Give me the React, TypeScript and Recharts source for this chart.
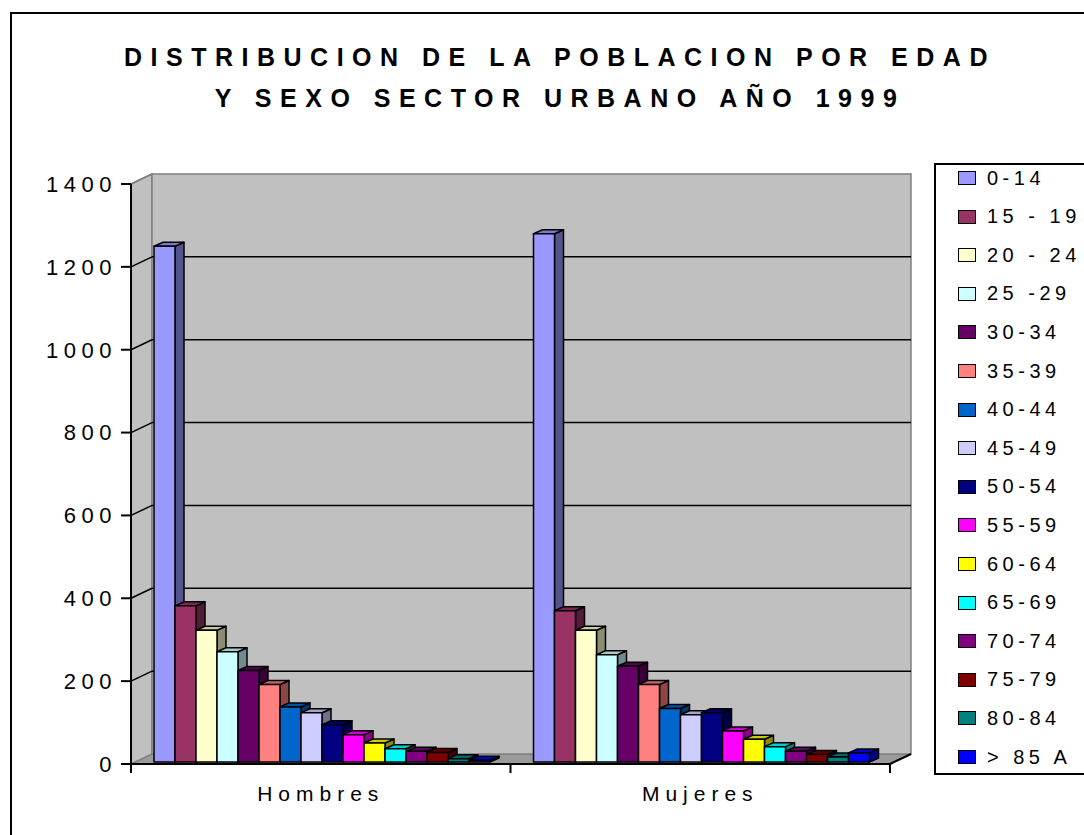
import { Bar, BarChart, ReferenceArea, XAxis, YAxis } from "recharts";

const categories = ["Hombres", "Mujeres"];
const ageGroups = ["0-14", "15 - 19", "20 - 24", "25 -29", "30-34", "35-39", "40-44", "45-49", "50-54", "55-59", "60-64", "65-69", "70-74", "75-79", "80-84", "> 85 A"];
const hombres = [1245, 377, 318, 266, 221, 187, 133, 119, 90, 66, 46, 32, 26, 23, 8, 4];
const mujeres = [1275, 365, 318, 259, 231, 187, 129, 114, 119, 75, 55, 37, 26, 18, 12, 22];
const yTicks = [0, 200, 400, 600, 800, 1000, 1200, 1400];

const colors = ["#9999ff", "#993366", "#ffffcc", "#ccffff", "#660066", "#ff8080", "#0066cc", "#ccccff", "#000080", "#ff00ff", "#ffff00", "#00ffff", "#800080", "#800000", "#008080", "#0000ff"];

const FONT = "'Liberation Sans', Arial, sans-serif";
const WALL = { dx: 21, dy: -10 };
const BAR_SHIFT = { dx: 5, dy: -2 };
const BAR_DEPTH = { dx: 9, dy: -4 };

const data = categories.map((name, c) => {
  const row: Record<string, string | number> = { name };
  ageGroups.forEach((g, i) => {
    row[g] = c === 0 ? hombres[i] : mujeres[i];
  });
  return row;
});

function shade(hex: string, k: number) {
  const n = parseInt(hex.slice(1), 16);
  const r = Math.round(((n >> 16) & 255) * k);
  const g = Math.round(((n >> 8) & 255) * k);
  const b = Math.round((n & 255) * k);
  return `rgb(${r},${g},${b})`;
}

// bar with a top and a right side, drawn a little behind the front plane
function Bar3D(props: any) {
  const { x, y, width, height, color } = props;
  if (!height || height <= 0) return null;
  const fx = x + BAR_SHIFT.dx;
  const fy = y + BAR_SHIFT.dy;
  const { dx, dy } = BAR_DEPTH;
  const top = `${fx},${fy} ${fx + dx},${fy + dy} ${fx + width + dx},${fy + dy} ${fx + width},${fy}`;
  const side = `${fx + width},${fy} ${fx + width + dx},${fy + dy} ${fx + width + dx},${fy + height + dy} ${fx + width},${fy + height}`;
  return (
    <g stroke="#000" strokeWidth={1.5} strokeLinejoin="round">
      <polygon points={side} fill={shade(color, 0.55)} />
      <polygon points={top} fill={shade(color, 0.8)} />
      <rect x={fx} y={fy} width={width} height={height} fill={color} />
    </g>
  );
}

// back wall, side wall and floor, using the plot box of the reference area
function Walls(props: any) {
  const { x, y, width, height } = props;
  const { dx, dy } = WALL;
  const bottom = y + height;
  const right = x + width;
  const tickY = (v: number) => y + height * (1 - v / yTicks[yTicks.length - 1]);
  return (
    <g>
      <polygon points={`${x},${bottom} ${x + dx},${bottom + dy} ${right + dx},${bottom + dy} ${right},${bottom}`} fill="#9a9a9a" stroke="#808080" />
      <polygon points={`${x},${y} ${x + dx},${y + dy} ${x + dx},${bottom + dy} ${x},${bottom}`} fill="#c0c0c0" stroke="#808080" strokeWidth={1.5} />
      <rect x={x + dx} y={y + dy} width={width} height={height} fill="#c0c0c0" stroke="#808080" strokeWidth={1.5} />
      {yTicks.slice(1, -1).map((v) => (
        <g key={v} stroke="#000" strokeWidth={1.5}>
          <line x1={x + dx} y1={tickY(v) + dy} x2={right + dx} y2={tickY(v) + dy} />
          <line x1={x} y1={tickY(v)} x2={x + dx} y2={tickY(v) + dy} />
        </g>
      ))}
      <line x1={x} y1={y} x2={x + dx} y2={y + dy} stroke="#808080" strokeWidth={1.5} />
      <line x1={right} y1={bottom} x2={right + dx} y2={bottom + dy} stroke="#000" strokeWidth={2} />
      {[0, 0.5, 1].map((f) => (
        <line key={f} x1={x + width * f} y1={bottom} x2={x + width * f} y2={bottom + 9} stroke="#000" strokeWidth={2} />
      ))}
    </g>
  );
}

function Legend() {
  return (
    <div style={{ position: "absolute", left: 934, top: 163, width: 200, height: 608, border: "2px solid #000", background: "#fff" }}>
      {ageGroups.map((g, i) => (
        <div key={g} style={{ position: "absolute", left: 22, top: 2 + i * 38.6, height: 22, display: "flex", alignItems: "center" }}>
          <span style={{ width: 16, height: 12, border: "1.5px solid #000", background: colors[i], display: "inline-block" }} />
          <span style={{ marginLeft: 11, fontFamily: FONT, fontSize: 20, letterSpacing: 4.5, whiteSpace: "pre", color: "#000" }}>{g}</span>
        </div>
      ))}
    </div>
  );
}

export default function App() {
  return (
    <div style={{ position: "fixed", left: 0, top: 0, width: 1084, height: 835, overflow: "hidden", background: "#fff" }}>
      <div style={{ position: "absolute", left: 10, top: 12, width: 1200, height: 1000, border: "2px solid #000" }} />
      <div style={{ position: "absolute", left: 0, top: 37, width: 1120, textAlign: "center", fontFamily: FONT, fontWeight: "bold", fontSize: 25, letterSpacing: 8.5, lineHeight: "41px", color: "#000" }}>
        DISTRIBUCION DE LA POBLACION POR EDAD
        <br />
        Y SEXO SECTOR URBANO AÑO 1999
      </div>
      <div style={{ position: "absolute", left: 0, top: 0 }}>
        <BarChart width={1084} height={835} data={data} margin={{ top: 184, right: 194, left: 31, bottom: 21 }} barCategoryGap={18} barGap={0}>
          <ReferenceArea y1={0} y2={1400} shape={<Walls />} ifOverflow="visible" />
          <XAxis dataKey="name" height={50} axisLine={{ stroke: "#000", strokeWidth: 2 }} tickLine={false} tickSize={0} tickMargin={22} tick={{ fill: "#000", fontSize: 21, fontFamily: FONT, letterSpacing: 6 }} />
          <YAxis width={100} domain={[0, 1400]} ticks={yTicks} interval={0} axisLine={{ stroke: "#000", strokeWidth: 2 }} tickLine={{ stroke: "#000", strokeWidth: 2 }} tickSize={10} tickMargin={4} tick={{ fill: "#000", fontSize: 22, fontFamily: FONT, letterSpacing: 5.5 }} />
          {ageGroups.map((g, i) => (
            <Bar key={g} dataKey={g} fill={colors[i]} isAnimationActive={false} shape={(p: any) => <Bar3D {...p} color={colors[i]} />} />
          ))}
        </BarChart>
      </div>
      <Legend />
    </div>
  );
}
